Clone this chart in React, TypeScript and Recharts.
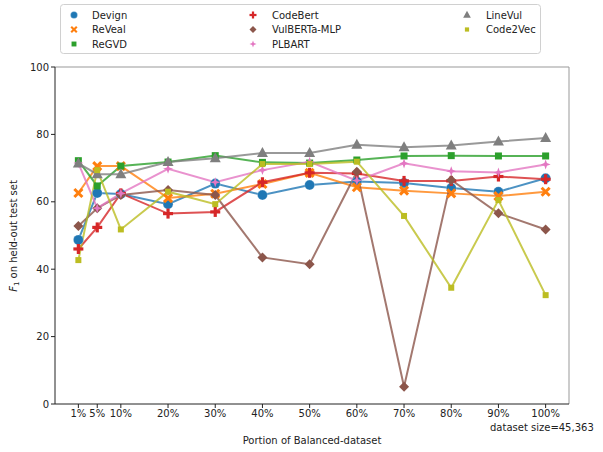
import React from 'react';
import { LineChart, Line, XAxis, YAxis, ReferenceLine } from 'recharts';

const portions = [1, 5, 10, 20, 30, 40, 50, 60, 70, 80, 90, 100];
const devign = [48.7, 62.6, 62.3, 59.3, 65.4, 62.0, 65.0, 66.0, 65.6, 64.1, 63.0, 67.0];
const reveal = [62.6, 70.6, 70.6, 61.1, 62.4, 65.3, 68.6, 64.3, 63.3, 62.5, 61.7, 63.0];
const regvd = [72.2, 64.7, 70.6, 71.8, 73.7, 71.7, 71.5, 72.4, 73.6, 73.7, 73.6, 73.6];
const codebert = [46.0, 52.4, 62.5, 56.5, 57.0, 65.8, 68.6, 68.4, 66.2, 66.2, 67.5, 66.7];
const vulberta = [52.8, 58.1, 62.0, 63.5, 62.0, 43.5, 41.5, 68.9, 5.1, 66.5, 56.6, 51.8];
const plbart = [71.5, 58.1, 62.5, 69.8, 65.8, 69.4, 71.9, 66.3, 71.4, 69.1, 68.7, 71.1];
const linevul = [71.4, 68.2, 68.2, 71.8, 72.9, 74.5, 74.5, 76.9, 76.2, 76.7, 77.9, 78.9];
const code2vec = [42.7, 69.4, 51.8, 63.0, 59.3, 71.2, 71.2, 71.9, 55.8, 34.5, 60.5, 32.3];

const seriesNames = ['Devign', 'ReVeal', 'ReGVD', 'CodeBert', 'VulBERTa-MLP', 'PLBART', 'LineVul', 'Code2Vec'];
const seriesValues = [devign, reveal, regvd, codebert, vulberta, plbart, linevul, code2vec];
const seriesColors = ['#1f77b4', '#ff7f0e', '#2ca02c', '#d62728', '#8c564b', '#e377c2', '#7f7f7f', '#bcbd22'];
const seriesShapes = ['circle', 'x', 'square', 'plus', 'diamond', 'star', 'triangle', 'smallsquare'];
const yTicks = [0, 20, 40, 60, 80, 100];

const data = portions.map((p, i) => {
  const row: any = { x: p };
  seriesNames.forEach((n, j) => {
    row[n] = seriesValues[j][i];
  });
  return row;
});

const FONT = 'DejaVu Sans, sans-serif';

function Marker({ shape, cx, cy, color, s = 1 }: any) {
  const t = `translate(${cx},${cy}) scale(${s})`;
  switch (shape) {
    case 'circle':
      return <circle cx={cx} cy={cy} r={5 * s} fill={color} stroke="#fff" strokeOpacity={0.5} strokeWidth={0.5} />;
    case 'x':
      return (
        <g transform={t}>
          <path d="M-4,-4L4,4M-4,4L4,-4" stroke={color} strokeWidth={3} />
        </g>
      );
    case 'square':
      return (
        <g transform={t}>
          <rect x={-3.5} y={-3.5} width={7} height={7} fill={color} />
        </g>
      );
    case 'smallsquare':
      return (
        <g transform={t}>
          <rect x={-3} y={-3} width={6} height={6} fill={color} />
        </g>
      );
    case 'plus':
      return (
        <g transform={t}>
          <rect x={-5} y={-1.6} width={10} height={3.2} fill={color} />
          <rect x={-1.6} y={-5} width={3.2} height={10} fill={color} />
        </g>
      );
    case 'diamond':
      return (
        <g transform={t}>
          <polygon points="0,-5 5,0 0,5 -5,0" fill={color} />
        </g>
      );
    case 'star':
      return (
        <g transform={t}>
          <polygon points="0,-5 1.3,-1.3 5,0 1.3,1.3 0,5 -1.3,1.3 -5,0 -1.3,-1.3" fill={color} />
        </g>
      );
    case 'triangle':
      return (
        <g transform={t}>
          <polygon points="0,-6 5.5,4 -5.5,4" fill={color} />
        </g>
      );
    default:
      return null;
  }
}

const legendCols = [74, 253, 467];
const legendTextCols = [92, 272, 486];
const legendRows = [15, 29.5, 44];
const legendLayout = [
  [0, 0], [0, 1], [0, 2], [1, 0], [1, 1], [1, 2], [2, 0], [2, 1],
];

export default function App() {
  return (
    <div style={{ position: 'absolute', left: 0, top: 0, width: 603, height: 452, background: '#fff' }}>
      <LineChart
        width={603}
        height={452}
        data={data}
        margin={{ top: 67, right: 34, bottom: 0, left: 0 }}
      >
        <XAxis
          dataKey="x"
          type="number"
          domain={[-3.95, 104.95]}
          ticks={portions}
          interval={0}
          allowDataOverflow
          tickFormatter={(v: number) => `${v}%`}
          tick={{ fontSize: 10, fill: '#222', fontFamily: FONT }}
          tickLine={{ stroke: '#222' }}
          axisLine={{ stroke: '#222' }}
          tickSize={4}
          tickMargin={2}
          height={48}
        />
        <YAxis
          type="number"
          domain={[0, 100]}
          ticks={yTicks}
          interval={0}
          allowDataOverflow
          tick={{ fontSize: 10, fill: '#222', fontFamily: FONT }}
          tickLine={{ stroke: '#222' }}
          axisLine={{ stroke: '#222' }}
          tickSize={4}
          tickMargin={2}
          width={55}
        />
        <ReferenceLine y={100} stroke="#999" strokeWidth={1} ifOverflow="visible" />
        <ReferenceLine x={104.95} stroke="#999" strokeWidth={1} ifOverflow="visible" />
        {seriesNames.map((n, j) => (
          <Line
            key={n}
            type="linear"
            dataKey={n}
            stroke={seriesColors[j]}
            strokeWidth={2}
            strokeOpacity={0.8}
            isAnimationActive={false}
            activeDot={false}
            dot={(p: any) => (
              <Marker key={`${n}-${p.index}`} shape={seriesShapes[j]} cx={p.cx} cy={p.cy} color={seriesColors[j]} />
            )}
          />
        ))}
      </LineChart>
      <svg
        width={603}
        height={452}
        style={{ position: 'absolute', left: 0, top: 0, pointerEvents: 'none' }}
        fontFamily={FONT}
      >
        <rect x={60.5} y={4.5} width={480} height={49} rx={3} fill="#fff" fillOpacity={0.8} stroke="#d0d0d0" />
        {seriesNames.map((n, j) => {
          const [c, r] = legendLayout[j];
          return (
            <g key={n}>
              <Marker shape={seriesShapes[j]} cx={legendCols[c]} cy={legendRows[r]} color={seriesColors[j]} s={0.7} />
              <text x={legendTextCols[c]} y={legendRows[r] + 3.5} fontSize={10} fill="#222">
                {n}
              </text>
            </g>
          );
        })}
        <text x={312} y={444} fontSize={10} fill="#222" textAnchor="middle">
          Portion of Balanced-dataset
        </text>
        <text x={490} y={431} fontSize={10} fill="#222">
          dataset size=45,363
        </text>
        <text transform="translate(17,236) rotate(-90)" fontSize={10} fill="#222" textAnchor="middle">
          <tspan fontStyle="italic">F</tspan>
          <tspan fontSize={7} dy={2}>1</tspan>
          <tspan dy={-2}> on held-out test set</tspan>
        </text>
      </svg>
    </div>
  );
}
